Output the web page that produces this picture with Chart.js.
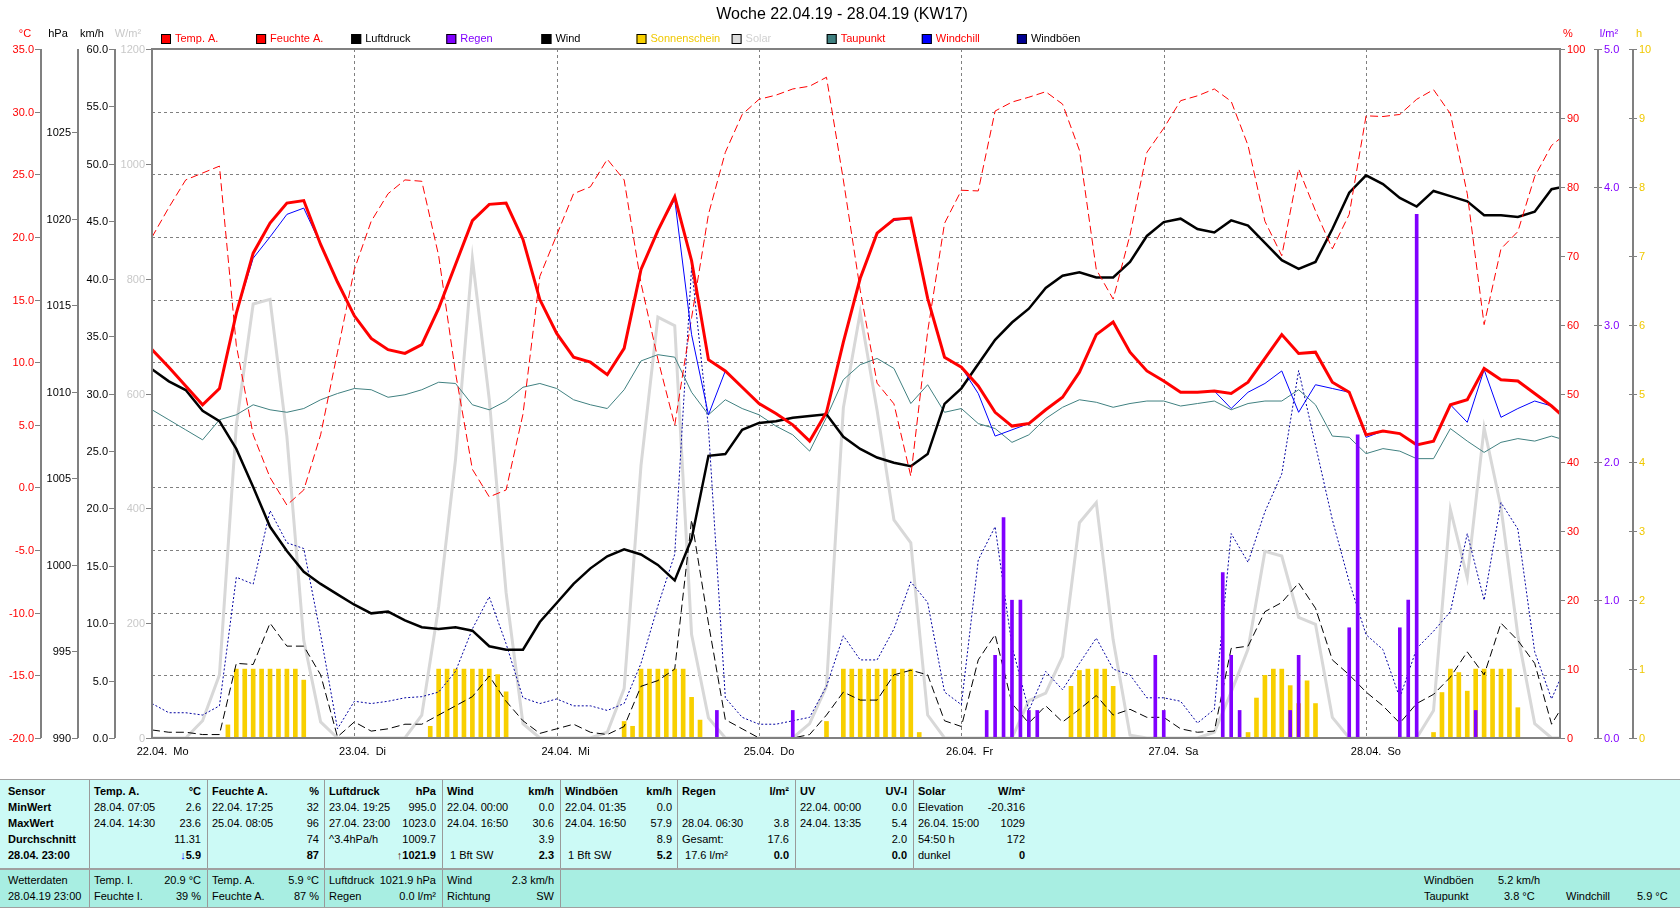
<!DOCTYPE html>
<html lang="de">
<head>
<meta charset="utf-8">
<title>Woche 22.04.19 - 28.04.19 (KW17)</title>
<script src="https://cdn.jsdelivr.net/npm/chart.js@4.4.1/dist/chart.umd.min.js"></script>
<style>
  html, body { margin: 0; padding: 0; background: #fff; }
  body { position: relative; width: 1680px; height: 909px; overflow: hidden; font-family: "Liberation Sans", Arial, sans-serif; }
  #chartBox { position: absolute; left: 0; top: 0; width: 1680px; height: 777px; }
  .blk { position: absolute; left: 0; width: 1680px; }
  #blk1 { top: 779px; height: 88px; background: #ccfaf6; border-top: 1px solid #a0a0a0; border-bottom: 1px solid #a0a0a0; }
  #blk2 { top: 869px; height: 37px; background: #a8eee2; border-top: 1px solid #a0a0a0; border-bottom: 1px solid #a0a0a0; }
  .t { position: absolute; white-space: pre; font-family: "Liberation Sans", Arial, sans-serif; font-size: 11px; line-height: 16px; height: 16px; color: #000; }
  .r { text-align: right; }
  .b { font-weight: bold; }
  .sep { position: absolute; top: 0; bottom: 0; width: 1px; background: #9a9a9a; }
</style>
</head>
<body>
<div id="chartBox"><canvas id="wx"></canvas></div>
<div class="blk" id="blk1"></div>
<div class="blk" id="blk2"></div>
<script>
// Stunden ab 22.04. 00:00 (2h-Raster)
const hours = [0, 2, 4, 6, 8, 10, 12, 14, 16, 18, 20, 22,
  24, 26, 28, 30, 32, 34, 36, 38, 40, 42, 44, 46,
  48, 50, 52, 54, 56, 58, 60, 62, 64, 66, 68, 70,
  72, 74, 76, 78, 80, 82, 84, 86, 88, 90, 92, 94,
  96, 98, 100, 102, 104, 106, 108, 110, 112, 114, 116, 118,
  120, 122, 124, 126, 128, 130, 132, 134, 136, 138, 140, 142,
  144, 146, 148, 150, 152, 154, 156, 158, 160, 162, 164, 166, 167];

const tempA = [11.0, 9.6, 8.1, 6.6, 7.9, 13.9, 18.7, 21.1, 22.7, 22.9, 19.4, 16.4,
  13.7, 11.9, 11.0, 10.7, 11.4, 14.3, 17.8, 21.3, 22.6, 22.7, 19.8, 15.0,
  12.3, 10.4, 10.0, 9.0, 11.1, 17.4, 20.5, 23.2, 18.1, 10.2, 9.3, 8.0,
  6.7, 5.9, 5.0, 3.7, 6.0, 11.6, 16.7, 20.3, 21.4, 21.5, 15.1, 10.4,
  9.6, 8.1, 6.0, 4.9, 5.1, 6.2, 7.2, 9.2, 12.2, 13.2, 10.8, 9.3,
  8.5, 7.6, 7.6, 7.7, 7.5, 8.4, 10.3, 12.2, 10.7, 10.8, 8.4, 7.6,
  4.2, 4.5, 4.3, 3.4, 3.7, 6.6, 7.0, 9.5, 8.6, 8.5, 7.5, 6.5, 5.9];

const windchill = [11.0, 9.6, 8.1, 6.6, 7.9, 13.9, 18.3, 20.0, 21.8, 22.3, 19.4, 16.4,
  13.7, 11.9, 11.0, 10.7, 11.4, 14.3, 17.8, 21.3, 22.6, 22.7, 19.8, 15.0,
  12.3, 10.4, 10.0, 9.0, 11.1, 17.4, 20.5, 23.0, 12.2, 5.8, 9.3, 8.0,
  6.7, 5.9, 5.0, 3.7, 6.0, 11.6, 16.7, 20.3, 21.3, 21.5, 15.1, 10.4,
  9.6, 7.5, 4.1, 4.6, 5.1, 6.2, 7.2, 9.2, 12.2, 13.2, 10.8, 9.3,
  8.5, 7.6, 7.6, 7.7, 6.3, 7.6, 8.3, 9.3, 6.0, 8.2, 7.9, 7.6,
  4.0, 4.5, 4.3, 3.4, 3.7, 6.6, 5.2, 9.4, 5.6, 6.3, 6.9, 6.5, 5.9];

const dewpoint = [6.2, 5.4, 4.6, 3.8, 5.4, 5.8, 6.6, 6.2, 6.0, 6.3, 7.0, 7.5,
  7.9, 7.8, 7.2, 7.4, 7.8, 8.4, 8.3, 6.6, 6.2, 6.9, 8.0, 8.3,
  7.9, 7.0, 6.6, 6.3, 7.8, 10.1, 10.6, 10.4, 7.6, 5.8, 7.0, 6.3,
  5.8, 4.9, 4.2, 2.9, 5.6, 8.6, 9.8, 10.3, 9.5, 6.7, 8.2, 6.0,
  6.3, 5.1, 4.7, 3.6, 4.2, 5.5, 6.4, 7.0, 6.8, 6.4, 6.7, 6.9,
  6.9, 6.5, 6.7, 6.9, 6.2, 6.7, 6.9, 6.9, 7.8, 6.6, 4.1, 4.0,
  2.7, 3.1, 2.9, 2.3, 2.3, 4.7, 3.7, 2.8, 3.6, 3.9, 3.7, 4.1, 3.9];

const humidity = [72.7, 77, 81, 82, 83, 57, 44, 37.8, 33.8, 36, 44, 56,
  68, 75, 79, 81, 80.8, 70, 53, 39, 35, 36, 47, 67,
  73, 79, 80, 84, 81, 66, 55, 45.4, 61, 76, 85, 90.5,
  92.7, 93.3, 94.2, 94.6, 95.9, 81, 65, 51.5, 48.5, 38, 59, 74.7,
  79.5, 79.4, 91, 92.3, 93, 93.8, 92, 85.3, 68, 63.7, 73, 85,
  88.5, 92.5, 93.2, 94.2, 92.4, 86, 75, 70, 82.6, 76.5, 71, 76,
  90.3, 90.2, 90.5, 92.7, 94.1, 90.6, 79, 60, 71, 73.5, 81.5, 86, 87];

const pressure = [1011.3, 1010.6, 1010.1, 1008.9, 1008.3, 1006.7, 1004.5, 1002.2, 1000.8, 999.6, 998.9, 998.3,
  997.7, 997.2, 997.3, 996.8, 996.4, 996.3, 996.4, 996.2, 995.3, 995.1, 995.1, 996.7,
  997.8, 998.9, 999.8, 1000.5, 1000.9, 1000.6, 1000.0, 999.1, 1001.5, 1006.3, 1006.4, 1007.8,
  1008.2, 1008.3, 1008.5, 1008.6, 1008.7, 1007.4, 1006.7, 1006.2, 1005.9, 1005.7, 1006.4, 1009.3,
  1010.2, 1011.6, 1013.0, 1014.0, 1014.8, 1016.0, 1016.7, 1016.9, 1016.6, 1016.6, 1017.5, 1019.0,
  1019.8, 1020.0, 1019.4, 1019.2, 1019.9, 1019.6, 1018.6, 1017.6, 1017.1, 1017.5, 1019.4, 1021.5,
  1022.5, 1022.0, 1021.2, 1020.7, 1021.6, 1021.3, 1021.0, 1020.2, 1020.2, 1020.1, 1020.4, 1021.7, 1021.8];

const solar = [0, 0, 0, 30, 110, 545, 756, 764, 525, 170, 28, 0,
  0, 0, 0, 0, 40, 229, 485, 835, 590, 253, 25, 0,
  0, 0, 0, 10, 86, 475, 733, 718, 180, 35, 0, 0,
  0, 0, 0, 25, 90, 575, 741, 571, 380, 340, 40, 0,
  0, 0, 0, 0, 65, 78, 142, 375, 410, 171, 5, 0,
  0, 0, 0, 10, 80, 155, 325, 317, 210, 198, 36, 0,
  0, 0, 0, 0, 48, 398, 279, 540, 402, 179, 25, 0, 0];

const wind = [0.7, 0.5, 0.5, 0.3, 0.3, 6.5, 6.4, 10.0, 8.0, 8.0, 5.5, 0.1,
  1.4, 0.6, 0.8, 1.2, 1.2, 2.0, 2.8, 3.6, 5.4, 3.2, 1.5, 0.4,
  0.8, 1.2, 0.5, 0.3, 1.0, 4.5, 5.0, 6.0, 19.0, 10.0, 1.6, 0.8,
  0, 0, 0, 0.3, 2.0, 4.0, 3.3, 3.3, 5.5, 5.9, 5.5, 1.5,
  1.0, 6.8, 9.0, 3.0, 1.3, 2.8, 1.4, 2.5, 3.7, 2.0, 2.5, 1.8,
  1.8, 0.8, 0.5, 0.6, 7.8, 8.0, 11.0, 11.8, 13.5, 11.3, 6.8, 5.5,
  4.0, 2.8, 1.3, 3.0, 3.8, 5.3, 7.5, 5.5, 10.0, 8.5, 6.5, 1.2, 2.4];

const gusts = [3.0, 2.2, 2.2, 2.0, 2.8, 14.0, 13.4, 19.8, 17.0, 16.5, 9.0, 0.8,
  3.2, 3.0, 3.2, 3.5, 3.6, 4.0, 5.8, 9.5, 12.3, 8.2, 3.5, 3.0,
  3.4, 2.8, 2.8, 2.4, 3.0, 6.5, 11.5, 16.0, 41.0, 27.0, 3.5, 1.8,
  1.2, 1.2, 1.5, 1.8, 4.5, 8.9, 6.8, 6.8, 9.5, 13.6, 11.8, 4.0,
  2.9, 15.5, 18.4, 8.0, 2.4, 5.8, 4.2, 6.5, 8.7, 6.0, 5.5, 3.5,
  3.5, 3.2, 1.3, 2.5, 17.8, 15.3, 19.7, 23.0, 32.0, 25.5, 19.0, 13.6,
  9.0, 7.7, 3.5, 7.8, 9.3, 11.0, 17.8, 12.0, 20.5, 18.2, 7.5, 3.4, 5.1];

// Sonnenschein je Stunde (h)
const sunHour = [9, 10, 11, 12, 13, 14, 15, 16, 17, 18,
  33, 34, 35, 36, 37, 38, 39, 40, 41, 42,
  56, 57, 58, 59, 60, 61, 62, 63, 64, 65,
  80, 82, 83, 84, 85, 86, 87, 88, 89, 90, 91,
  109, 110, 111, 112, 113, 114,
  130, 131, 132, 133, 134, 135, 136, 137, 138,
  152, 153, 154, 155, 156, 157, 158, 159, 160, 161, 162];
const sunVal = [0.19, 1, 1, 1, 1, 1, 1, 1, 1, 0.84,
  0.17, 1, 1, 1, 1, 1, 1, 1, 0.92, 0.67,
  0.24, 0.17, 1, 1, 1, 1, 1, 1, 0.59, 0.26,
  0.24, 1, 1, 1, 1, 1, 1, 1, 1, 1, 0.08,
  0.75, 0.98, 1, 1, 1, 0.75,
  0.08, 0.58, 0.91, 1, 1, 0.76, 0.5, 0.83, 0.5,
  0.08, 0.66, 1, 0.95, 0.68, 1, 1, 1, 1, 1, 0.44];

// Regen je Stunde (l/m²)
const rainHour = [67, 76, 99, 100, 101, 102, 103, 104, 105, 119, 120, 127, 128, 129, 135, 136, 142, 143, 148, 149, 150, 157];
const rainVal = [0.2, 0.2, 0.2, 0.6, 1.6, 1.0, 1.0, 0.2, 0.2, 0.6, 0.2, 1.2, 0.6, 0.2, 0.2, 0.6, 0.8, 2.2, 0.8, 1.0, 3.8, 0.2];

const dayPos = [0, 24, 48, 72, 96, 120, 144];
const dayLabels = ['22.04.|Mo', '23.04.|Di', '24.04.|Mi', '25.04.|Do', '26.04.|Fr', '27.04.|Sa', '28.04.|So'];

const tempTicks = [-20, -15, -10, -5, 0, 5, 10, 15, 20, 25, 30, 35];
const pressTicks = [990, 995, 1000, 1005, 1010, 1015, 1020, 1025];
const windTicks = [0, 5, 10, 15, 20, 25, 30, 35, 40, 45, 50, 55, 60];
const solarTicks = [0, 200, 400, 600, 800, 1000, 1200];
const humTicks = [0, 10, 20, 30, 40, 50, 60, 70, 80, 90, 100];
const rainTicks = [0, 1, 2, 3, 4, 5];
const sunTicks = [0, 1, 2, 3, 4, 5, 6, 7, 8, 9, 10];

const legendItems = [
  ['Temp. A.', '#ff0000', '#ff0000'],
  ['Feuchte A.', '#ff0000', '#ff0000'],
  ['Luftdruck', '#000000', '#000000'],
  ['Regen', '#8000ff', '#8000ff'],
  ['Wind', '#000000', '#000000'],
  ['Sonnenschein', '#f8d000', '#f0c800'],
  ['Solar', '#dcdcdc', '#d0d0d0'],
  ['Taupunkt', '#408080', '#ff0000'],
  ['Windchill', '#0000ff', '#ff0000'],
  ['Windböen', '#000090', '#000000']
];

const pts = (xs, ys) => xs.map((x, i) => ({ x, y: ys[i] }));
const FONT = '11px "Liberation Sans", Arial, sans-serif';

const wxPlugin = {
  id: 'wxFrame',
  beforeDatasetsDraw(chart) {
    const { ctx, chartArea: a, scales } = chart;
    ctx.save();
    ctx.strokeStyle = '#808080';
    ctx.lineWidth = 1;
    ctx.setLineDash([3, 3]);
    ctx.beginPath();
    tempTicks.slice(1, -1).forEach(v => {
      const y = Math.round(scales.yT.getPixelForValue(v)) + 0.5;
      ctx.moveTo(a.left, y); ctx.lineTo(a.right, y);
    });
    dayPos.slice(1).forEach(h => {
      const x = Math.round(scales.x.getPixelForValue(h)) + 0.5;
      ctx.moveTo(x, a.top); ctx.lineTo(x, a.bottom);
    });
    ctx.stroke();
    ctx.restore();
  },
  afterDraw(chart) {
    const { ctx, chartArea: a, scales } = chart;
    ctx.save();
    ctx.font = FONT;
    ctx.textBaseline = 'middle';

    // Rahmen
    ctx.strokeStyle = '#808080';
    ctx.lineWidth = 2;
    ctx.strokeRect(a.left, a.top, a.right - a.left, a.bottom - a.top);

    // linke Achsen
    const leftAxes = [
      { id: 'yT', ticks: tempTicks, x: 41, color: '#ff0000', fmt: v => v.toFixed(1), unit: '°C', ux: 25 },
      { id: 'yP', ticks: pressTicks, x: 78, color: '#000000', fmt: v => String(v), unit: 'hPa', ux: 58 },
      { id: 'yW', ticks: windTicks, x: 115, color: '#000000', fmt: v => v.toFixed(1), unit: 'km/h', ux: 92 },
      { id: 'yS', ticks: solarTicks, x: 152, color: '#c8c8c8', fmt: v => String(v), unit: 'W/m²', ux: 128, noLine: true }
    ];
    leftAxes.forEach(ax => {
      const sc = scales[ax.id];
      ctx.strokeStyle = '#808080';
      ctx.lineWidth = 2;
      if (!ax.noLine) {
        ctx.beginPath(); ctx.moveTo(ax.x, a.top); ctx.lineTo(ax.x, a.bottom); ctx.stroke();
      }
      ctx.lineWidth = 1;
      ctx.textAlign = 'right';
      ctx.fillStyle = ax.color;
      ax.ticks.forEach(v => {
        const y = Math.round(sc.getPixelForValue(v)) + 0.5;
        ctx.beginPath(); ctx.moveTo(ax.x - 6, y); ctx.lineTo(ax.x, y); ctx.stroke();
        ctx.fillText(ax.fmt(v), ax.x - 7, y);
      });
      ctx.textAlign = 'center';
      ctx.fillText(ax.unit, ax.ux, 34);
    });

    // rechte Achsen
    const rightAxes = [
      { id: 'yH', ticks: humTicks, x: 1560, color: '#ff0000', fmt: v => String(v), unit: '%', ux: 1568, noLine: true, t0: 0, t1: 5 },
      { id: 'yR', ticks: rainTicks, x: 1598, color: '#8000ff', fmt: v => v.toFixed(1), unit: 'l/m²', ux: 1609, t0: -4, t1: 4 },
      { id: 'ySun', ticks: sunTicks, x: 1633, color: '#f0c800', fmt: v => String(v), unit: 'h', ux: 1639, t0: -4, t1: 4 }
    ];
    rightAxes.forEach(ax => {
      const sc = scales[ax.id];
      ctx.strokeStyle = '#808080';
      ctx.lineWidth = 2;
      if (!ax.noLine) {
        ctx.beginPath(); ctx.moveTo(ax.x, a.top); ctx.lineTo(ax.x, a.bottom); ctx.stroke();
      }
      ctx.lineWidth = 1;
      ctx.textAlign = 'left';
      ctx.fillStyle = ax.color;
      ax.ticks.forEach(v => {
        const y = Math.round(sc.getPixelForValue(v)) + 0.5;
        ctx.beginPath(); ctx.moveTo(ax.x + ax.t0, y); ctx.lineTo(ax.x + ax.t1, y); ctx.stroke();
        ctx.fillText(ax.fmt(v), ax.x + ax.t1 + 2, y);
      });
      ctx.textAlign = 'center';
      ctx.fillText(ax.unit, ax.ux, 34);
    });

    // Tage
    ctx.fillStyle = '#000';
    dayPos.forEach((h, i) => {
      const x = scales.x.getPixelForValue(h);
      const [d, wd] = dayLabels[i].split('|');
      const w = ctx.measureText(d).width;
      ctx.textAlign = 'left';
      ctx.fillText(d, x - w / 2, 752);
      ctx.fillText(wd, x + w / 2 + 6, 752);
    });

    // Titel
    ctx.font = '16px "Liberation Sans", Arial, sans-serif';
    ctx.textAlign = 'center';
    ctx.fillStyle = '#000';
    ctx.fillText('Woche 22.04.19 - 28.04.19 (KW17)', 842, 15);

    // Legende
    ctx.font = FONT;
    ctx.textAlign = 'left';
    legendItems.forEach(([name, box, txt], i) => {
      const x = 161 + i * 95.1;
      ctx.fillStyle = box;
      ctx.fillRect(x, 34, 10, 10);
      ctx.strokeStyle = '#000';
      ctx.lineWidth = 1;
      ctx.strokeRect(x + 0.5, 34.5, 9, 9);
      ctx.fillStyle = txt;
      ctx.fillText(name, x + 14, 39);
    });
    ctx.restore();
  }
};

const lineDs = (label, data, axis, color, width, dash, order) => ({
  label, data, yAxisID: axis, borderColor: color, borderWidth: width,
  borderDash: dash || [], order, fill: false, tension: 0, pointRadius: 0
});

const hidden = (min, max) => ({ type: 'linear', display: false, min, max, offset: false });

new Chart(document.getElementById('wx'), {
  type: 'line',
  data: {
    datasets: [
      { type: 'bar', label: 'Regen', data: pts(rainHour, rainVal), yAxisID: 'yR',
        backgroundColor: '#8000ff', barThickness: 3, grouped: false, order: 0 },
      lineDs('Temp. A.', pts(hours, tempA), 'yT', '#ff0000', 3, null, 1),
      lineDs('Windchill', pts(hours, windchill), 'yT', '#0000ff', 1, null, 2),
      lineDs('Feuchte A.', pts(hours, humidity), 'yH', '#ff0000', 1, [8, 4], 3),
      lineDs('Luftdruck', pts(hours, pressure), 'yP', '#000000', 2.5, null, 4),
      lineDs('Taupunkt', pts(hours, dewpoint), 'yT', '#408080', 1, null, 5),
      lineDs('Windböen', pts(hours, gusts), 'yW', '#0000a0', 1, [2, 2], 6),
      lineDs('Wind', pts(hours, wind), 'yW', '#000000', 1, [8, 4], 7),
      lineDs('Solar', pts(hours, solar), 'yS', '#d8d8d8', 3, null, 8),
      { type: 'bar', label: 'Sonnenschein', data: pts(sunHour, sunVal), yAxisID: 'ySun',
        backgroundColor: '#f8d000', barThickness: 4, grouped: false, order: 9 }
    ]
  },
  options: {
    responsive: true,
    maintainAspectRatio: false,
    animation: false,
    layout: { padding: { left: 152, top: 49, right: 120, bottom: 39 } },
    plugins: { legend: { display: false }, title: { display: false }, tooltip: { enabled: false } },
    scales: {
      x: hidden(0, 167),
      yT: hidden(-20, 35),
      yP: hidden(990, 1029.8),
      yW: hidden(0, 60),
      yS: hidden(0, 1200),
      yH: hidden(0, 100),
      yR: hidden(0, 5),
      ySun: hidden(0, 10)
    }
  },
  plugins: [wxPlugin]
});

// Tabelle unten
const tblHead = [['Temp. A.', '°C'], ['Feuchte A.', '%'], ['Luftdruck', 'hPa'], ['Wind', 'km/h'],
  ['Windböen', 'km/h'], ['Regen', 'l/m²'], ['UV', 'UV-I'], ['Solar', 'W/m²']];
const tblRowNames = ['Sensor', 'MinWert', 'MaxWert', 'Durchschnitt', '28.04. 23:00'];
const tblCells = [
  [['28.04. 07:05', '2.6'], ['24.04. 14:30', '23.6'], ['', '11.31'], ['', '<span style="color:#0000ff">↓</span>5.9']],
  [['22.04. 17:25', '32'], ['25.04. 08:05', '96'], ['', '74'], ['', '87']],
  [['23.04. 19:25', '995.0'], ['27.04. 23:00', '1023.0'], ['^3.4hPa/h', '1009.7'], ['', '<span style="color:#602000">↑</span>1021.9']],
  [['22.04. 00:00', '0.0'], ['24.04. 16:50', '30.6'], ['', '3.9'], [' 1 Bft SW', '2.3']],
  [['22.04. 01:35', '0.0'], ['24.04. 16:50', '57.9'], ['', '8.9'], [' 1 Bft SW', '5.2']],
  [['', ''], ['28.04. 06:30', '3.8'], ['Gesamt:', '17.6'], [' 17.6 l/m²', '0.0']],
  [['22.04. 00:00', '0.0'], ['24.04. 13:35', '5.4'], ['', '2.0'], ['', '0.0']],
  [['Elevation', '-20.316'], ['26.04. 15:00', '1029'], ['54:50 h', '172'], ['dunkel', '0']]
];
const nowCells = [
  [['Temp. I.', '20.9 °C'], ['Feuchte I.', '39 %']],
  [['Temp. A.', '5.9 °C'], ['Feuchte A.', '87 %']],
  [['Luftdruck', '1021.9 hPa'], ['Regen', '0.0 l/m²']],
  [['Wind', '2.3 km/h'], ['Richtung', 'SW']]
];
const colLeft = [89, 207, 324, 442, 560, 677, 795, 913];
const colW = 118;

function put(parent, html, x, top, right, bold) {
  const el = document.createElement('div');
  el.className = 't' + (right ? ' r' : '') + (bold ? ' b' : '');
  if (right) { el.style.left = (x - 160) + 'px'; el.style.width = '160px'; }
  else el.style.left = x + 'px';
  el.style.top = top + 'px';
  el.innerHTML = html;
  parent.appendChild(el);
}
function sep(parent, x) {
  const s = document.createElement('div');
  s.className = 'sep';
  s.style.left = x + 'px';
  parent.appendChild(s);
}

const b1 = document.getElementById('blk1');
const rowTop1 = [3, 19, 35, 51, 67];
tblRowNames.forEach((n, r) => put(b1, n, 8, rowTop1[r], false, true));
colLeft.forEach((cl, c) => {
  sep(b1, cl);
  put(b1, tblHead[c][0], cl + 5, rowTop1[0], false, true);
  put(b1, tblHead[c][1], cl + colW - 6, rowTop1[0], true, true);
  tblCells[c].forEach(([lbl, val], r) => {
    put(b1, lbl, cl + 5, rowTop1[r + 1], false, false);
    put(b1, val, cl + colW - 6, rowTop1[r + 1], true, r === 3);
  });
});

const b2 = document.getElementById('blk2');
const rowTop2 = [2, 18];
put(b2, 'Wetterdaten', 8, rowTop2[0]);
put(b2, '28.04.19 23:00', 8, rowTop2[1]);
nowCells.forEach((col, c) => {
  const cl = colLeft[c];
  sep(b2, cl);
  col.forEach(([lbl, val], r) => {
    put(b2, lbl, cl + 5, rowTop2[r]);
    put(b2, val, cl + colW - 6, rowTop2[r], true);
  });
});
sep(b2, colLeft[4]);
put(b2, 'Windböen', 1424, rowTop2[0]);
put(b2, '5.2 km/h', 1498, rowTop2[0]);
put(b2, 'Taupunkt', 1424, rowTop2[1]);
put(b2, '3.8 °C', 1504, rowTop2[1]);
put(b2, 'Windchill', 1566, rowTop2[1]);
put(b2, '5.9 °C', 1637, rowTop2[1]);
</script>
</body>
</html>
